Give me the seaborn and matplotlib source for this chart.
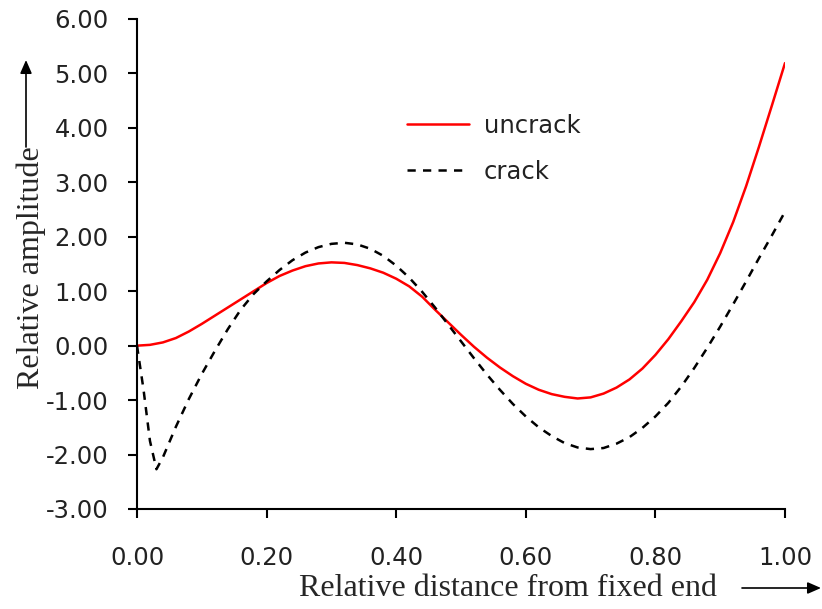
import numpy as np
import pandas as pd
import matplotlib
matplotlib.use("Agg")
import matplotlib.pyplot as plt
import seaborn as sns

# ---- data ----
x_uncrack = [0.00, 0.02, 0.04, 0.06, 0.08, 0.10, 0.12, 0.14, 0.16, 0.18, 0.20,
             0.22, 0.24, 0.26, 0.28, 0.30, 0.32, 0.34, 0.36, 0.38, 0.40,
             0.42, 0.44, 0.46, 0.48, 0.50, 0.52, 0.54, 0.56, 0.58, 0.60,
             0.62, 0.64, 0.66, 0.68, 0.70, 0.72, 0.74, 0.76, 0.78, 0.80,
             0.82, 0.84, 0.86, 0.88, 0.90, 0.92, 0.94, 0.96, 0.98, 1.00]
y_uncrack = [0.00, 0.015, 0.06, 0.14, 0.26, 0.40, 0.55, 0.70, 0.85, 1.00, 1.15,
             1.28, 1.38, 1.46, 1.51, 1.53, 1.52, 1.48, 1.42, 1.34, 1.23,
             1.09, 0.90, 0.66, 0.43, 0.20, -0.02, -0.22, -0.40, -0.56, -0.70,
             -0.81, -0.89, -0.94, -0.97, -0.95, -0.88, -0.77, -0.62, -0.42, -0.17,
             0.12, 0.45, 0.80, 1.21, 1.70, 2.27, 2.93, 3.66, 4.42, 5.19]

x_crack = [0.00, 0.01, 0.02, 0.03, 0.04, 0.05, 0.06, 0.08, 0.10, 0.12, 0.14,
           0.16, 0.18, 0.20, 0.22, 0.24, 0.26, 0.28, 0.30, 0.32, 0.34,
           0.36, 0.38, 0.40, 0.42, 0.44, 0.46, 0.48, 0.50, 0.52, 0.54,
           0.56, 0.58, 0.60, 0.62, 0.64, 0.66, 0.68, 0.70, 0.72, 0.74,
           0.76, 0.78, 0.80, 0.82, 0.84, 0.86, 0.88, 0.90, 0.92, 0.94,
           0.96, 0.98, 1.00]
y_crack = [0.00, -0.80, -1.75, -2.27, -2.05, -1.77, -1.49, -0.98, -0.52, -0.10, 0.30,
           0.66, 0.95, 1.18, 1.39, 1.57, 1.71, 1.81, 1.87, 1.89, 1.86,
           1.78, 1.65, 1.47, 1.25, 0.99, 0.70, 0.39, 0.08, -0.23, -0.53,
           -0.81, -1.07, -1.30, -1.50, -1.66, -1.79, -1.87, -1.90, -1.88, -1.80,
           -1.68, -1.51, -1.30, -1.05, -0.75, -0.41, -0.04, 0.35, 0.76, 1.18,
           1.61, 2.03, 2.46]

labels = ["uncrack", "crack"]
x_ticks = [0.0, 0.2, 0.4, 0.6, 0.8, 1.0]
y_ticks = [-3, -2, -1, 0, 1, 2, 3, 4, 5, 6]

sns.set_style("white")
plt.rcParams['font.family'] = ['DejaVu Sans']

W, H = 822, 609
fig = plt.figure(figsize=(W / 100, H / 100), dpi=100)
ax = fig.add_axes([137 / W, 1 - 509 / H, (785 - 137) / W, (509 - 19) / H])

sns.lineplot(x=x_uncrack, y=y_uncrack, ax=ax, color="#ff0000", linewidth=1.8,
             label=labels[0], sort=False)
sns.lineplot(x=x_crack, y=y_crack, ax=ax, color="black", linewidth=1.8,
             label=labels[1], sort=False)
for ln in ax.lines:
    ln.set_solid_joinstyle("round")
    ln.set_dash_joinstyle("round")
ax.lines[1].set_dashes((3.3, 2.9))

ax.set_xlim(0, 1.0)
ax.set_ylim(-3, 6)
ax.set_xticks(x_ticks)
ax.set_yticks(y_ticks)
ax.set_xticklabels([f"{v:.2f}" for v in x_ticks])
ax.set_yticklabels([f"{v:.2f}" for v in y_ticks])
ax.tick_params(axis="both", direction="out", length=6.5, width=1.5,
               labelsize=17.5, color="black", labelcolor="#222222")
ax.tick_params(axis="x", pad=20)
ax.tick_params(axis="y", pad=14)
ax.tick_params(left=True, bottom=True)

for s in ["top", "right"]:
    ax.spines[s].set_visible(False)
for s in ["left", "bottom"]:
    ax.spines[s].set_linewidth(1.5)
    ax.spines[s].set_color("black")

ax.set_xlabel("")
ax.set_ylabel("")
ax.grid(False)

leg = ax.legend(loc="upper left", bbox_to_anchor=((407 - 137) / 648, 1 - (114 - 19) / 490),
                frameon=False, fontsize=17.5, handlelength=2.55, handletextpad=0.6,
                labelspacing=0.9, borderpad=0, borderaxespad=0)
for t in leg.get_texts():
    t.set_color("#222222")

serif = ['Liberation Serif', 'DejaVu Serif']
fig.text(508 / W, 1 - 589 / H, "Relative distance from fixed end", family=serif,
         fontsize=23, ha="center", va="center")
fig.text(31 / W, 1 - 268 / H, "Relative amplitude", family=serif,
         fontsize=23, ha="center", va="center", rotation=90)

fig.add_artist(matplotlib.patches.FancyArrowPatch(
    (742 / W, 1 - 588 / H), (821 / W, 1 - 588 / H), transform=fig.transFigure,
    arrowstyle="-|>,head_length=8,head_width=3.5", color="black", lw=1.2,
    mutation_scale=1, shrinkA=0, shrinkB=0))
fig.add_artist(matplotlib.patches.FancyArrowPatch(
    (26 / W, 1 - 147 / H), (26 / W, 1 - 60 / H), transform=fig.transFigure,
    arrowstyle="-|>,head_length=8,head_width=3.5", color="black", lw=1.2,
    mutation_scale=1, shrinkA=0, shrinkB=0))

fig.savefig("out.png", dpi=100)
